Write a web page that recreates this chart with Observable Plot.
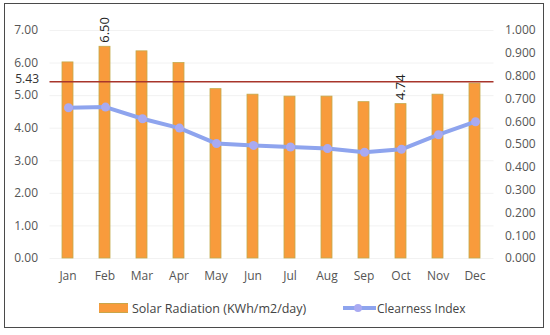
<!DOCTYPE html>
<html>
<head>
<meta charset="utf-8">
<script src="https://cdn.jsdelivr.net/npm/d3@7"></script>
<script src="https://cdn.jsdelivr.net/npm/@observablehq/plot@0.6"></script>
<style>
  html, body { margin: 0; padding: 0; background: #fff; }
  body { width: 550px; height: 335px; position: relative; overflow: hidden; font-family: "Open Sans", "DejaVu Sans", sans-serif; }
  #frame { position: absolute; left: 4px; top: 3px; width: 538px; height: 323px; border: 1.5px solid #4a4a4a; }
  .layer { position: absolute; left: 0; top: 0; }
  #legend { position: absolute; left: 0; top: 299px; width: 550px; height: 18px; font-size: 12.5px; color: #444; }
  .lg { position: absolute; top: 0; display: flex; align-items: center; height: 18px; white-space: nowrap; }
</style>
</head>
<body>
<div id="frame"></div>
<div id="bars" class="layer"></div>
<div id="line" class="layer"></div>
<div id="legend">
  <div class="lg" style="left:99px;"><span style="display:inline-block;width:29px;height:8px;background:#f89b3c;border-top:1px solid #c9a64a;border-bottom:1px solid #c9a64a;margin-right:4px;"></span>Solar Radiation (KWh/m2/day)</div>
  <div class="lg" style="left:343px;font-size:12px;"><svg width="33" height="12" style="margin-right:1px;"><line x1="0" y1="6" x2="33" y2="6" stroke="#8ea4ee" stroke-width="4"/><circle cx="15" cy="6" r="4" fill="#a9aaf2"/></svg>Clearness Index</div>
</div>
<script>
const months = ["Jan","Feb","Mar","Apr","May","Jun","Jul","Aug","Sep","Oct","Nov","Dec"];
const solarRadiation = [6.02, 6.50, 6.36, 6.00, 5.20, 5.03, 4.97, 4.97, 4.80, 4.74, 5.03, 5.37];
const clearnessIndex = [0.661, 0.664, 0.613, 0.572, 0.504, 0.496, 0.489, 0.482, 0.466, 0.479, 0.543, 0.600];
const averageRadiation = 5.43;
const leftTicks = [0, 1, 2, 3, 4, 5, 6, 7];
const rightTicks = [0, 0.1, 0.2, 0.3, 0.4, 0.5, 0.6, 0.7, 0.8, 0.9, 1.0];

const solar = months.map((m, i) => ({month: m, value: solarRadiation[i]}));
const ci = months.map((m, i) => ({month: m, value: clearnessIndex[i]}));
const maxV = d3.max(solarRadiation), minV = d3.min(solarRadiation);
const labeled = solar.filter(d => d.value === maxV || d.value === minV);

const W = 550, H = 290;
const margins = {marginLeft: 49.5, marginRight: 56.5, marginTop: 30, marginBottom: 32};
const font = "Open Sans, DejaVu Sans, sans-serif";
const xOpts = {domain: months, paddingInner: 0.70, paddingOuter: 0.35, label: null};

const p1 = Plot.plot({
  width: W, height: H, ...margins,
  style: {fontFamily: font, fontSize: "12px", color: "#555", background: "transparent"},
  x: xOpts,
  y: {domain: [0, 7], label: null},
  marks: [
    Plot.ruleY(leftTicks, {stroke: "#f2f2f2", strokeWidth: 1}),
    Plot.barY(solar, {x: "month", y: "value", fill: "#f89b3c", stroke: "#c2aa4c", strokeWidth: 0.8}),
    Plot.ruleY([averageRadiation], {stroke: "#a8352b", strokeWidth: 1.5}),
    Plot.text([averageRadiation], {y: d => d, frameAnchor: "left", dx: -11, dy: -2, textAnchor: "end", text: d => d.toFixed(2), fontSize: 12, fill: "#333"}),
    Plot.text(labeled, {x: "month", y: "value", text: d => d.value.toFixed(2), rotate: -90, textAnchor: "start", dy: -4, fontSize: 13, fill: "#222"}),
    Plot.axisY({ticks: leftTicks, tickFormat: d => d.toFixed(2), tickSize: 0, tickPadding: 12, fontSize: 12, fill: "#555", label: null}),
    Plot.axisX({tickSize: 0, tickPadding: 13, fontSize: 12, fill: "#555", label: null})
  ]
});
document.getElementById("bars").appendChild(p1);

const p2 = Plot.plot({
  width: W, height: H, ...margins,
  style: {fontFamily: font, fontSize: "12px", color: "#555", background: "transparent"},
  x: {...xOpts, axis: null},
  y: {domain: [0, 1], label: null},
  marks: [
    Plot.line(ci, {x: "month", y: "value", stroke: "#8ea4ee", strokeWidth: 4, strokeLinejoin: "round"}),
    Plot.dot(ci, {x: "month", y: "value", r: 4.5, fill: "#a9aaf2", stroke: "none"}),
    Plot.axisY({anchor: "right", ticks: rightTicks, tickFormat: d => d.toFixed(3), tickSize: 0, tickPadding: 11, fontSize: 12, fill: "#555", label: null})
  ]
});
document.getElementById("line").appendChild(p2);
</script>
</body>
</html>
